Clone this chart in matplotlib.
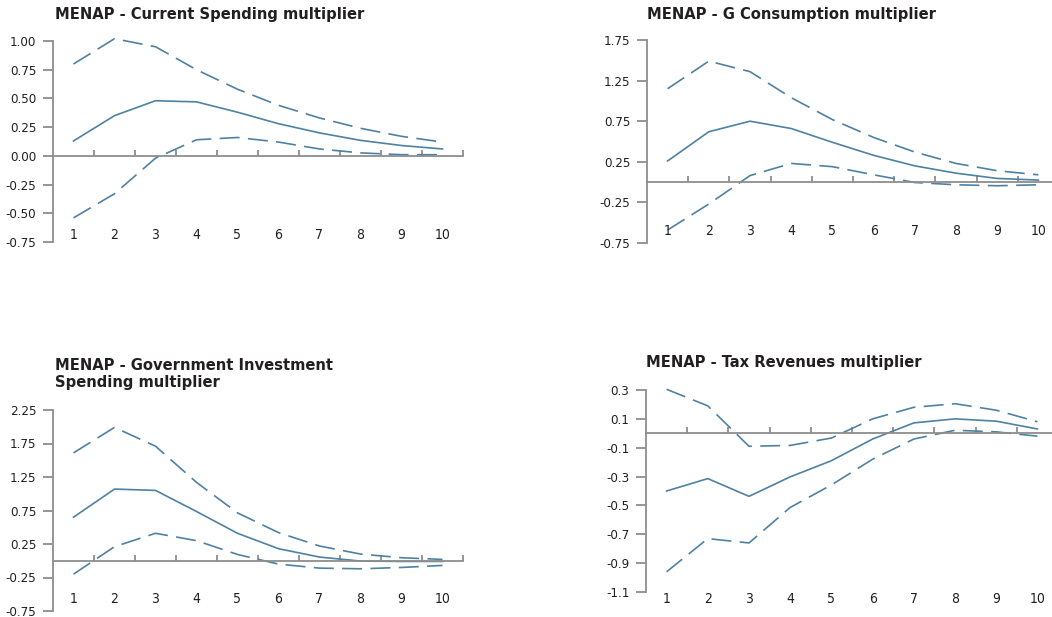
import matplotlib
matplotlib.use('Agg')
import matplotlib.pyplot as plt
import matplotlib.font_manager as fm
from matplotlib.font_manager import FontProperties
from matplotlib.transforms import blended_transform_factory

# look for a condensed face (Liberation Sans Narrow, DejaVu Sans Condensed ...)
reg_path = bold_path = None
cands = sorted(fm.findSystemFonts())
for pref in ['LiberationSansNarrow', 'DejaVuSansCondensed', 'Narrow', 'Condensed']:
    regs = [p for p in cands if pref in p.replace('-', '').replace(' ', '')
            and 'Italic' not in p and 'Oblique' not in p]
    if regs:
        b = [p for p in regs if 'Bold' in p]
        r = [p for p in regs if 'Bold' not in p]
        if r and b:
            reg_path, bold_path = r[0], b[0]
            break

if reg_path:
    FP_REG = FontProperties(fname=reg_path)
    FP_BOLD = FontProperties(fname=bold_path)
else:
    FP_REG = FontProperties(family='DejaVu Sans')
    FP_BOLD = FontProperties(family='DejaVu Sans', weight='bold')

LINE = '#4E81A2'; AXIS = '#8E8E8E'; TXT = '#231F20'

horizon = list(range(1, 11))

cs_upper = [0.80, 1.02, 0.95, 0.75, 0.58, 0.44, 0.33, 0.24, 0.17, 0.12]
cs_mid   = [0.13, 0.35, 0.48, 0.47, 0.38, 0.28, 0.20, 0.135, 0.09, 0.06]
cs_lower = [-0.54, -0.33, -0.02, 0.14, 0.16, 0.12, 0.06, 0.026, 0.01, 0.01]

gc_upper = [1.15, 1.49, 1.36, 1.04, 0.77, 0.55, 0.37, 0.23, 0.14, 0.09]
gc_mid   = [0.26, 0.62, 0.75, 0.66, 0.49, 0.33, 0.20, 0.11, 0.045, 0.025]
gc_lower = [-0.59, -0.27, 0.08, 0.23, 0.19, 0.09, -0.005, -0.033, -0.045, -0.033]

gi_upper = [1.61, 1.99, 1.71, 1.17, 0.715, 0.42, 0.22, 0.10, 0.045, 0.02]
gi_mid   = [0.65, 1.07, 1.05, 0.735, 0.41, 0.18, 0.055, -0.005, -0.01, -0.01]
gi_lower = [-0.20, 0.21, 0.41, 0.30, 0.094, -0.05, -0.11, -0.12, -0.10, -0.07]

tx_upper = [0.305, 0.19, -0.09, -0.084, -0.033, 0.10, 0.18, 0.205, 0.16, 0.08]
tx_mid   = [-0.40, -0.314, -0.437, -0.302, -0.19, -0.04, 0.072, 0.10, 0.084, 0.03]
tx_lower = [-0.96, -0.73, -0.76, -0.514, -0.358, -0.18, -0.04, 0.021, 0.01, -0.02]

W, H = 1052, 617
fig = plt.figure(figsize=(W/100, H/100), dpi=100, facecolor='white')

def px_axes(x0, y_top, x1, y_bot):
    return fig.add_axes([x0/W, 1 - y_bot/H, (x1-x0)/W, (y_bot-y_top)/H])

panels = [
    # title, title anchor px, axes px box, ylim, yticks, fmt, x-label offset, data
    ('MENAP - Current Spending multiplier', (55, 15), (53, 41, 463, 242),
     (-0.75, 1.00), [1.00, 0.75, 0.50, 0.25, 0.00, -0.25, -0.50, -0.75], '{:.2f}', 0.035,
     (cs_upper, cs_mid, cs_lower)),
    ('MENAP - G Consumption multiplier', (647, 15), (647, 40, 1059, 243),
     (-0.75, 1.75), [1.75, 1.25, 0.75, 0.25, -0.25, -0.75], '{:.2f}', 0.06,
     (gc_upper, gc_mid, gc_lower)),
    ('MENAP - Government Investment\nSpending multiplier', (55, 374), (53, 410, 463, 611),
     (-0.75, 2.25), [2.25, 1.75, 1.25, 0.75, 0.25, -0.25, -0.75], '{:.2f}', 0.06,
     (gi_upper, gi_mid, gi_lower)),
    ('MENAP - Tax Revenues multiplier', (646, 363), (646, 390, 1058, 592),
     (-1.1, 0.3), [0.3, 0.1, -0.1, -0.3, -0.5, -0.7, -0.9, -1.1], '{:.1f}', -0.035,
     (tx_upper, tx_mid, tx_lower)),
]

for title, (tx, ty), box, ylim, yticks, fmt, loff, (up, mid, lo) in panels:
    ax = px_axes(*box)
    ax.set_xlim(0.5, 10.5)
    ax.set_ylim(*ylim)
    for s in ['top', 'right']:
        ax.spines[s].set_visible(False)
    ax.spines['left'].set_color(AXIS); ax.spines['left'].set_linewidth(1.3)
    ax.spines['bottom'].set_position(('data', 0))
    ax.spines['bottom'].set_color(AXIS); ax.spines['bottom'].set_linewidth(1.3)
    ax.set_yticks(yticks)
    ax.set_yticklabels([fmt.format(v) for v in yticks])
    for lab in ax.get_yticklabels():
        lab.set_fontproperties(FP_REG); lab.set_fontsize(9.5); lab.set_color(TXT)
    ax.tick_params(axis='y', direction='out', length=7, width=1.3, color=AXIS, pad=5)
    ax.set_xticks([h + 0.5 for h in horizon])
    ax.set_xticklabels([])
    ax.tick_params(axis='x', direction='in', length=4, width=1.3, color=AXIS)
    trans = blended_transform_factory(ax.transData, ax.transAxes)
    for h in horizon:
        ax.text(h, loff, str(h), transform=trans, ha='center', va='center',
                fontproperties=FP_REG, fontsize=10, color=TXT, clip_on=False)
    ax.plot(horizon, up, color=LINE, lw=1.2, dashes=(12, 5), clip_on=False)
    ax.plot(horizon, mid, color=LINE, lw=1.2, clip_on=False)
    ax.plot(horizon, lo, color=LINE, lw=1.2, dashes=(12, 5), clip_on=False)
    fig.text(tx/W, 1 - ty/H, title, ha='left', va='center', fontproperties=FP_BOLD,
             fontsize=11.8, color=TXT, linespacing=1.1)

fig.savefig('out.png', dpi=100, facecolor='white')
